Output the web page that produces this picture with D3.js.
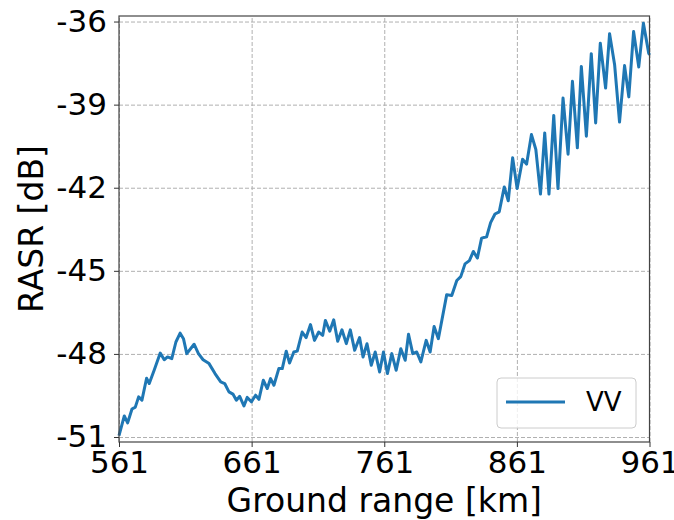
<!DOCTYPE html>
<html>
<head>
<meta charset="utf-8">
<script src="https://cdnjs.cloudflare.com/ajax/libs/d3/7.8.5/d3.min.js"></script>
<style>
  body { margin: 0; background: #fff; }
  text { font-family: "DejaVu Sans", sans-serif; }
</style>
</head>
<body>
<div id="chart"></div>
<script>
// ground range [km]
var groundRange = [
  561, 565.0, 567.5, 570.8, 573.3, 575.8, 578.3, 581.8, 583.8, 587.5,
  592.1, 595.1, 597.6, 600.8, 603.9, 607.1, 609.6, 612.1, 617.6, 620.9,
  624.4, 628.9, 633.4, 637.7, 640.7, 643.9, 646.9, 649.5, 652.0, 655.2,
  657.7, 660.8, 664.0, 666.5, 669.8, 672.8, 675.3, 677.8, 681.5, 684.1,
  687.1, 689.6, 692.8, 695.4, 699.1, 702.1, 705.4, 708.4, 711.6, 714.6,
  716.6, 719.9, 722.9, 725.9, 729.1, 732.4, 735.4, 738.7, 742.4, 745.0,
  748.0, 751.2, 754.2, 757.5, 760.4, 763.4, 766.7, 770.0, 773.5, 776.8,
  779.3, 782.5, 785.5, 788.6, 792.6, 795.6, 798.6, 801.8, 808.1, 811.9,
  815.7, 818.7, 821.9, 825.2, 828.2, 831.2, 834.4, 838.2, 841.2, 844.5,
  847.7, 851.5, 854.5, 857.8, 861.2, 865.3, 868.3, 872.0, 875.3, 878.8,
  882.0, 885.2, 888.8, 892.0, 895.8, 899.6, 902.9, 906.6, 909.6, 913.4,
  917.1, 920.4, 923.9, 927.9, 930.9, 934.7, 938.4, 942.2, 945.4, 949.0,
  952.9, 956.4, 960.4, 961
]

// RASR, VV polarisation [dB]
var rasrVV = [
  -50.95, -50.24, -50.49, -49.99, -49.92, -49.55, -49.67, -48.88, -49.07, -48.59,
  -47.97, -48.21, -48.11, -48.17, -47.57, -47.25, -47.45, -47.99, -47.65, -47.99,
  -48.21, -48.35, -48.71, -49.01, -49.07, -49.37, -49.45, -49.67, -49.53, -49.88,
  -49.57, -49.73, -49.49, -49.64, -48.95, -49.25, -48.89, -49.13, -48.53, -48.53,
  -47.90, -48.33, -47.93, -47.90, -47.21, -47.41, -46.94, -47.51, -47.21, -47.33,
  -46.79, -47.18, -46.77, -47.54, -47.13, -47.63, -47.13, -47.87, -47.41, -48.11,
  -47.63, -48.41, -47.93, -48.65, -47.93, -48.71, -47.99, -48.59, -47.81, -48.23,
  -47.29, -47.99, -47.93, -48.29, -47.51, -47.93, -47.01, -47.45, -45.86, -45.89,
  -45.35, -45.21, -44.75, -44.63, -44.30, -44.54, -43.82, -43.77, -43.26, -42.95,
  -42.87, -41.97, -42.47, -40.92, -42.03, -40.97, -41.15, -40.08, -40.62, -42.23,
  -40.02, -42.23, -39.39, -42.03, -38.76, -40.79, -38.16, -40.56, -37.62, -40.14,
  -37.16, -39.66, -36.78, -38.40, -36.44, -37.56, -39.63, -37.59, -38.72, -36.36,
  -37.64, -36.06, -37.14, -37.2
]

var xTicks = [561, 661, 761, 861, 961]
var yTicks = [-51, -48, -45, -42, -39, -36]
var yTickLabels = ['-51', '-48', '-45', '-42', '-39', '-36']
var seriesName = 'VV'

var margin = { top: 16, right: 24.5, bottom: 78, left: 119 }
var W = 674, H = 520
var w = W - margin.left - margin.right
var h = H - margin.top - margin.bottom

var svg = d3.select('#chart')
  .append('svg')
  .attr('width', W)
  .attr('height', H)

var g = svg.append('g')
  .attr('transform', 'translate(' + margin.left + ',' + margin.top + ')')

var x = d3.scaleLinear().domain([561, 961]).range([0, w])
var y = d3.scaleLinear().domain([-51.18, -35.8]).range([h, 0])

// grid
g.append('g')
  .attr('class', 'grid')
  .attr('transform', 'translate(0,' + h + ')')
  .call(d3.axisBottom(x).tickValues(xTicks).tickSize(-h).tickFormat(''))
g.append('g')
  .attr('class', 'grid')
  .call(d3.axisLeft(y).tickValues(yTicks).tickSize(-w).tickFormat(''))
g.selectAll('.grid .domain').remove()
g.selectAll('.grid line')
  .attr('stroke', '#b0b0b0')
  .attr('stroke-width', 1)
  .attr('stroke-dasharray', '4,2')

// line
var line = d3.line()
  .x(function(d, i) { return x(groundRange[i]) })
  .y(function(d) { return y(d) })

g.append('path')
  .datum(rasrVV)
  .attr('d', line)
  .attr('fill', 'none')
  .attr('stroke', '#1f77b4')
  .attr('stroke-width', 3)
  .attr('stroke-linejoin', 'round')

// frame
g.append('rect')
  .attr('width', w)
  .attr('height', h)
  .attr('fill', 'none')
  .attr('stroke', '#444')
  .attr('stroke-width', 1.2)

// axes
var xAxis = g.append('g')
  .attr('class', 'axis')
  .attr('transform', 'translate(0,' + h + ')')
  .call(d3.axisBottom(x).tickValues(xTicks).tickSize(5).tickPadding(4).tickFormat(d3.format('d')))
var yAxis = g.append('g')
  .attr('class', 'axis')
  .call(d3.axisLeft(y).tickValues(yTicks).tickSize(5).tickPadding(7)
    .tickFormat(function(d, i) { return yTickLabels[i] }))

g.selectAll('.axis .domain').remove()
g.selectAll('.axis .tick text')
  .attr('font-size', 31)
  .attr('fill', '#000')
g.selectAll('.axis .tick line').attr('stroke', '#333')

// axis labels
svg.append('text')
  .attr('x', margin.left + w / 2)
  .attr('y', 512)
  .attr('text-anchor', 'middle')
  .attr('font-size', 33)
  .text('Ground range [km]')

svg.append('text')
  .attr('transform', 'translate(43,' + (margin.top + h / 2) + ') rotate(-90)')
  .attr('text-anchor', 'middle')
  .attr('font-size', 33)
  .text('RASR [dB]')

// legend
var legend = svg.append('g')
  .attr('transform', 'translate(497,378)')
legend.append('rect')
  .attr('width', 139)
  .attr('height', 50)
  .attr('rx', 4)
  .attr('fill', '#fff')
  .attr('fill-opacity', 0.8)
  .attr('stroke', '#ccc')
legend.append('line')
  .attr('x1', 9)
  .attr('x2', 68)
  .attr('y1', 24)
  .attr('y2', 24)
  .attr('stroke', '#1f77b4')
  .attr('stroke-width', 3)
legend.append('text')
  .attr('x', 89)
  .attr('y', 24)
  .attr('dy', '0.36em')
  .attr('font-size', 26)
  .text(seriesName)
</script>
</body>
</html>
